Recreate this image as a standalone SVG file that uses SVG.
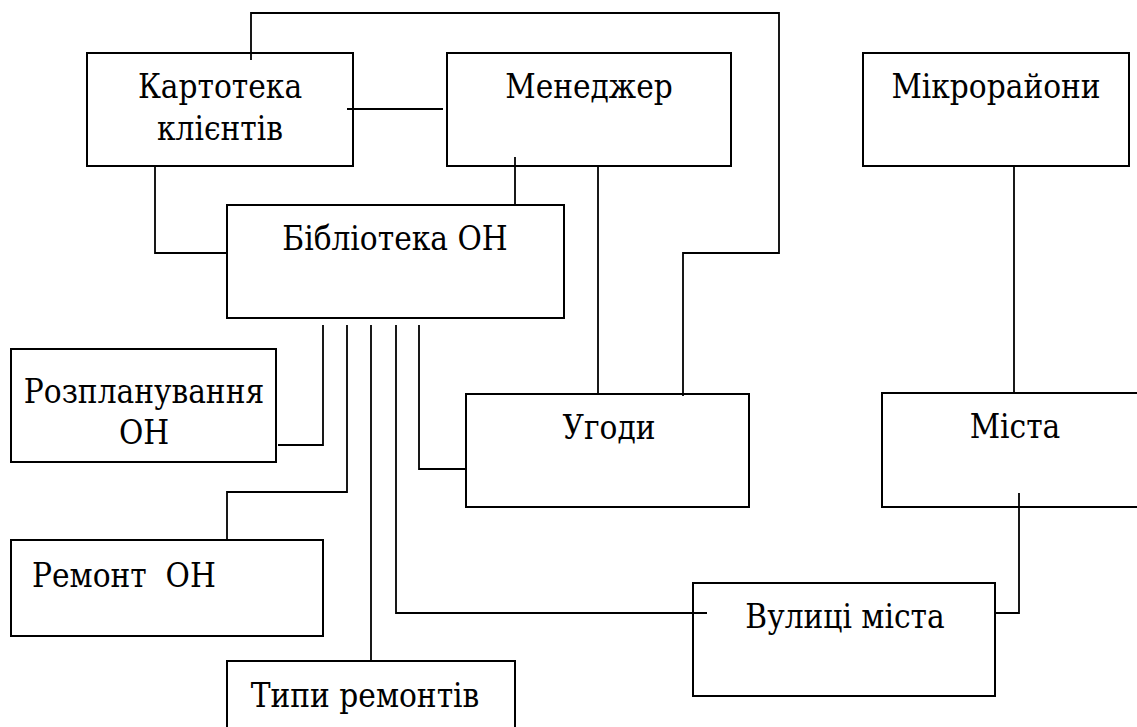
<svg xmlns="http://www.w3.org/2000/svg" width="1137" height="727" viewBox="0 0 1137 727">
<style>
.box{fill:#fff;stroke:#000;stroke-width:2}
.ln{fill:none;stroke:#000;stroke-width:1.8}
.c{text-anchor:middle}
</style>
<rect width="1137" height="727" fill="#fff"/>
<g id="connectors">
<path class="ln" d="M251,60 V13 H779 V253 H683 V396"/>
<path class="ln" d="M347,109 H443"/>
<path class="ln" d="M155,166 V253 H227"/>
<path class="ln" d="M515,157 V205"/>
<path class="ln" d="M598,166 V394"/>
<path class="ln" d="M1014,166 V393"/>
<path class="ln" d="M1019,493 V613 H996"/>
<path class="ln" d="M323,325 V445 H278"/>
<path class="ln" d="M347,325 V492 H227 V540"/>
<path class="ln" d="M371,325 V661"/>
<path class="ln" d="M396,325 V613 H707"/>
<path class="ln" d="M419,325 V469 H466"/>
</g>
<g font-family="'DejaVu Serif Condensed', 'DejaVu Serif', serif" font-stretch="condensed" font-size="33" fill="#000">
<g id="kartoteka"><rect class="box" x="87" y="53" width="266" height="113" fill-opacity="0"/><text class="c" x="220" y="98">Картотека</text><text class="c" x="220" y="140">клієнтів</text></g>
<g id="menedzher"><rect class="box" x="447" y="53" width="284" height="113" fill-opacity="0"/><text class="c" x="589" y="98">Менеджер</text></g>
<g id="mikroraiony"><rect class="box" x="863" y="53" width="266" height="113"/><text class="c" x="996" y="98">Мікрорайони</text></g>
<g id="biblioteka"><rect class="box" x="227" y="205" width="337" height="113" fill-opacity="0"/><text class="c" x="395" y="250">Бібліотека ОН</text></g>
<g id="rozplanuvannia"><rect class="box" x="11" y="349" width="265" height="113"/><text class="c" x="144" y="403">Розпланування</text><text class="c" x="144" y="444">ОН</text></g>
<g id="uhody"><rect class="box" x="466" y="394" width="283" height="113" fill-opacity="0"/><text class="c" x="609" y="439">Угоди</text></g>
<g id="mista"><rect class="box" x="882" y="393" width="270" height="114" fill-opacity="0"/><text class="c" x="1015" y="438">Міста</text></g>
<g id="remont"><rect class="box" x="11" y="540" width="312" height="96"/><text x="32" y="587" style="white-space:pre" xml:space="preserve">Ремонт  ОН</text></g>
<g id="vulytsi"><rect class="box" x="693" y="583" width="302" height="113" fill-opacity="0"/><text class="c" x="845" y="628">Вулиці міста</text></g>
<g id="typy"><rect class="box" x="227" y="661" width="288" height="80"/><text class="c" x="365" y="707">Типи ремонтів</text></g>
</g>
</svg>
